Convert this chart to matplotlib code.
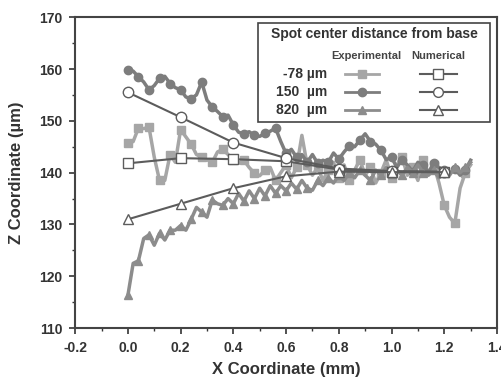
import matplotlib
matplotlib.use("Agg")
import matplotlib.pyplot as plt
from matplotlib.patches import Rectangle
from matplotlib.ticker import MultipleLocator

plt.rcParams["font.family"] = ["Liberation Sans", "DejaVu Sans"]
plt.rcParams["font.weight"] = "bold"

# experimental traces, x step 0.02 mm from 0 to 1.30
exp_x = [round(i * 0.02, 2) for i in range(66)]
exp_m78 = [145.7, 146.0, 148.6, 148.5, 148.8, 143.0, 138.5, 138.5, 143.5, 142.0,
           148.3, 146.9, 145.5, 143.5, 143.0, 142.5, 142.0, 144.0, 144.5, 143.5,
           142.5, 141.8, 142.4, 141.0, 139.9, 139.4, 140.5, 141.0, 138.5, 140.0,
           141.5, 139.0, 141.0, 147.2, 141.5, 139.5, 141.0, 138.5, 140.5, 142.0,
           139.0, 141.5, 138.5, 140.5, 142.5, 139.5, 141.0, 138.0, 140.0, 142.5,
           139.0, 141.5, 143.0, 139.5, 141.0, 138.5, 142.4, 140.0, 141.5, 138.0,
           133.7, 131.4, 130.2, 137.0, 140.0, 141.5]
exp_150 = [159.8, 159.6, 158.5, 157.5, 156.0, 156.8, 158.2, 158.6, 157.2, 156.4,
           156.0, 154.6, 154.3, 155.0, 157.5, 154.0, 152.7, 151.8, 150.8, 151.1,
           149.2, 147.8, 147.5, 147.9, 147.2, 147.0, 147.6, 148.0, 148.6, 146.0,
           143.7, 144.5, 143.0, 143.5, 142.0, 143.5, 141.8, 142.4, 142.0, 143.8,
           142.6, 144.0, 145.2, 145.0, 146.3, 147.5, 146.0, 145.5, 144.3, 142.5,
           143.0, 141.0, 142.5, 141.5, 140.2, 142.0, 141.5, 140.0, 141.8, 141.0,
           140.5, 139.8, 140.8, 139.5, 140.5, 142.4]
exp_820 = [116.3, 122.5, 123.0, 127.3, 128.0, 126.0, 128.3, 127.0, 128.9, 128.9,
           129.8, 128.9, 131.0, 133.3, 132.4, 131.4, 134.7, 134.0, 133.7, 135.0,
           134.0, 136.0, 134.5, 136.5, 135.0, 137.0, 135.5, 137.5, 136.0, 137.5,
           136.5, 138.0, 136.8, 138.5, 137.0, 136.6, 138.5, 137.5, 139.0, 138.0,
           139.5, 138.5, 140.0, 139.0, 140.5, 139.5, 138.5, 140.5, 139.5, 141.0,
           139.8, 140.5, 139.5, 141.0, 140.0, 141.5, 140.0, 139.5, 140.5, 139.0,
           140.5, 139.5, 141.0, 140.0, 141.0, 142.0]

# numerical results
num_x = [0.0, 0.2, 0.4, 0.6, 0.8, 1.0, 1.2]
num_m78 = [141.8, 142.8, 142.6, 142.2, 140.6, 140.2, 140.1]
num_150 = [155.5, 150.7, 145.8, 142.8, 140.8, 140.3, 140.2]
num_820 = [131.0, 134.0, 137.0, 139.3, 140.2, 140.1, 140.1]

labels = ["-78 \u00b5m", "150  \u00b5m", "820  \u00b5m"]
markers = ["s", "o", "^"]
exp_colors = ["#a6a6a6", "#7d7d7d", "#8c8c8c"]
num_color = "#5c5c5c"
txt = "#333333"

fig = plt.figure(figsize=(5.01, 3.82), dpi=100)
ax = fig.add_axes([0.150, 0.141, 0.842, 0.814])

for ys, m, c in zip([exp_m78, exp_150, exp_820], markers, exp_colors):
    ax.plot(exp_x, ys, color=c, lw=2.5, marker=m, ms=6, markevery=2,
            mec=c, mfc=c, zorder=2)
for ys, m in zip([num_m78, num_150, num_820], markers):
    ax.plot(num_x, ys, color=num_color, lw=1.5, marker=m, ms=7.5,
            mfc="white", mec=num_color, mew=1.0, zorder=3)

ax.set_xlim(-0.2, 1.4)
ax.set_ylim(110, 170)
ax.xaxis.set_major_locator(MultipleLocator(0.2))
ax.xaxis.set_minor_locator(MultipleLocator(0.1))
ax.yaxis.set_major_locator(MultipleLocator(10))
ax.yaxis.set_minor_locator(MultipleLocator(5))
ax.tick_params(which="major", direction="out", length=4, width=1.2,
               labelsize=10, colors=txt, pad=5)
ax.tick_params(which="minor", direction="out", length=2.5, width=1.0, colors=txt)
ax.set_xticklabels([f"{v:.1f}" for v in ax.get_xticks()])
for s in ax.spines.values():
    s.set_linewidth(1.5)
    s.set_color("#444444")
ax.set_xlabel("X Coordinate (mm)", fontsize=12, fontweight="bold", color=txt,
              labelpad=5)
ax.set_ylabel("Z Coordinate (\u00b5m)", fontsize=12, fontweight="bold", color=txt,
              labelpad=11)

# legend box drawn by hand
tr = ax.transAxes
ax.add_patch(Rectangle((0.434, 0.662), 0.549, 0.319, transform=tr,
                       fill=True, fc="white", ec="#444444", lw=1.2, zorder=5))
ax.text(0.71, 0.947, "Spot center distance from base", transform=tr,
        ha="center", va="center", fontsize=10, fontweight="bold",
        color=txt, zorder=6)
ax.text(0.69, 0.875, "Experimental", transform=tr, ha="center", va="center",
        fontsize=8, fontweight="bold", color="#444444", zorder=6)
ax.text(0.86, 0.875, "Numerical", transform=tr, ha="center", va="center",
        fontsize=8, fontweight="bold", color="#444444", zorder=6)
for i, (lab, m, c) in enumerate(zip(labels, markers, exp_colors)):
    yy = 0.818 - i * 0.058
    ax.text(0.597, yy, lab, transform=tr, ha="right", va="center",
            fontsize=10, fontweight="bold", color=txt, zorder=6)
    ax.plot([0.64, 0.72], [yy, yy], transform=tr, color=c, lw=2, zorder=6)
    ax.plot([0.68], [yy], transform=tr, marker=m, ms=6, color=c, zorder=7)
    ax.plot([0.817, 0.905], [yy, yy], transform=tr, color=num_color, lw=1.5, zorder=6)
    ax.plot([0.861], [yy], transform=tr, marker=m, ms=7, mfc="white",
            mec=num_color, zorder=7)

fig.savefig("out.png", dpi=100)
